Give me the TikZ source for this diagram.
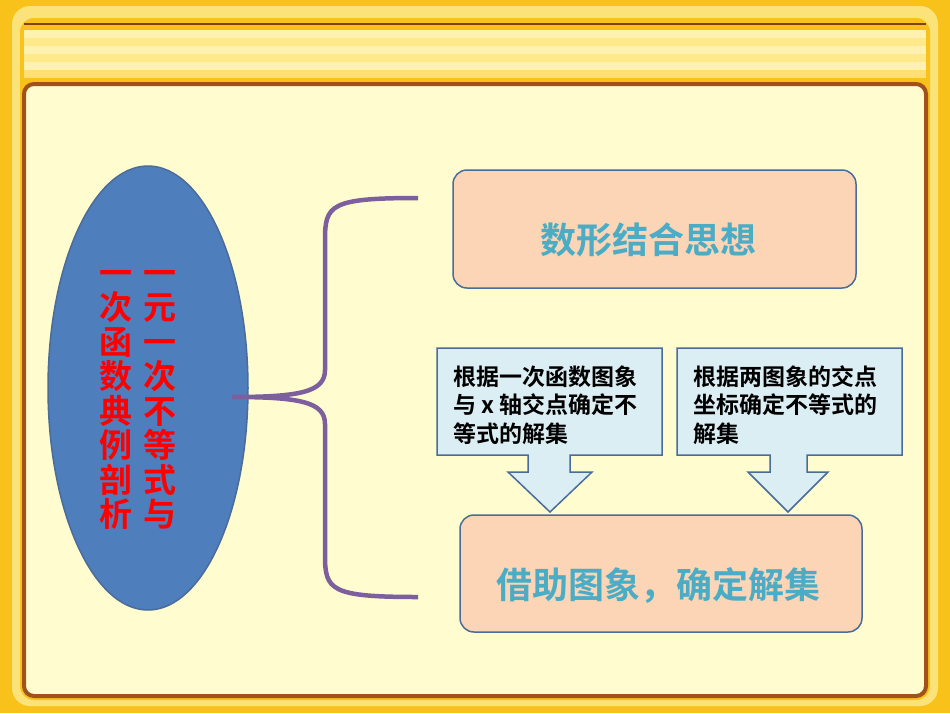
\documentclass[tikz,border=0pt]{standalone}
\usepackage{fontspec}
\setmainfont{Noto Sans CJK SC}[BoldFont={* Bold}]
\usetikzlibrary{shapes.geometric}
\definecolor{gold}{HTML}{F9C21A}
\definecolor{goldl}{HTML}{FBE37A}
\definecolor{panel}{HTML}{FFFDD0}
\definecolor{brown}{HTML}{A0521A}
\definecolor{peach}{HTML}{FBD5B5}
\definecolor{bord}{HTML}{4A6C9B}
\definecolor{teal}{HTML}{4BACC6}
\definecolor{lblue}{HTML}{DBEEF4}
\definecolor{ellf}{HTML}{4F7EBC}
\definecolor{purp}{HTML}{7E5F9E}
\tikzset{
 pbox/.style={draw=bord,line width=1.5pt,fill=peach,rounded corners=14pt},
 ptext/.style={text=teal,font=\bfseries\fontsize{36}{38}\selectfont},
 cbox/.style={draw=bord,line width=1.5pt,fill=lblue},
 ctext/.style={font=\bfseries\fontsize{23}{28.5}\selectfont,align=left,anchor=north west},
 vtext/.style={text=red,font=\bfseries\fontsize{33}{34.5}\selectfont,align=center}
}
\begin{document}
\begin{tikzpicture}[x=1pt,y=-1pt]
\useasboundingbox (0,0) rectangle (950,713);
\fill[gold] (0,0) rectangle (950,713);
\fill[goldl,rounded corners=18pt] (12,6) rectangle (938,706);
\fill[gold,rounded corners=14pt] (20,18) rectangle (930,700);
\foreach \y/\c in {30/FFF2B0,38/FFE98A,46/FFF2B0,54/FFE98A,62/FFF2B0,70/FFE070}{
 \definecolor{tmp}{HTML}{\c}\fill[tmp] (24,\y) rectangle (926,\y+8);}
\draw[brown!80!black,line width=2pt] (24,24) -- (926,24);
\fill[panel,draw=brown,line width=4pt,rounded corners=10pt] (24,84) rectangle (926,696);
% ellipse
\node[ellipse,draw=bord,line width=1.5pt,fill=ellf,minimum width=200pt,minimum height=444pt,inner sep=0] (ell) at (148,388) {};
\node[vtext] (t1) at (160,400) {一\\元\\一\\次\\不\\等\\式\\与};
\node[vtext] (t2) at (116,400) {一\\次\\函\\数\\典\\例\\剖\\析};
% brace
\coordinate (btop) at (418,198);
\coordinate (bbot) at (418,597);
\coordinate (btip) at (232,397);
\draw[purp,line width=4.5pt] (btop) .. controls (330,198) and (325,205) .. (325,240)
 -- (325,370) .. controls (325,392) and (300,397) .. (btip)
 .. controls (300,397) and (325,402) .. (325,424) -- (325,555)
 .. controls (325,590) and (330,597) .. (bbot);
% boxes
\draw[pbox] (453,170) rectangle (856,288);
\node[ptext] (b1) at (648,240) {数形结合思想};
\draw[pbox] (460,515) rectangle (862,632);
\node[ptext] (b2) at (658,585) {借助图象，确定解集};
% callouts
\draw[cbox] (437,348) -- (662,348) -- (662,455) -- (570,455) -- (570,472) -- (592,472) -- (550,512) -- (508,472) -- (528,472) -- (528,455) -- (437,455) -- cycle;
\node[ctext] (c1) at (450,362) {根据一次函数图象\\与 x 轴交点确定不\\等式的解集};
\draw[cbox] (677,348) -- (902,348) -- (902,455) -- (807,455) -- (807,472) -- (828,472) -- (788,512) -- (748,472) -- (770,472) -- (770,455) -- (677,455) -- cycle;
\node[ctext] (c2) at (690,362) {根据两图象的交点\\坐标确定不等式的\\解集};
\end{tikzpicture}
\end{document}
